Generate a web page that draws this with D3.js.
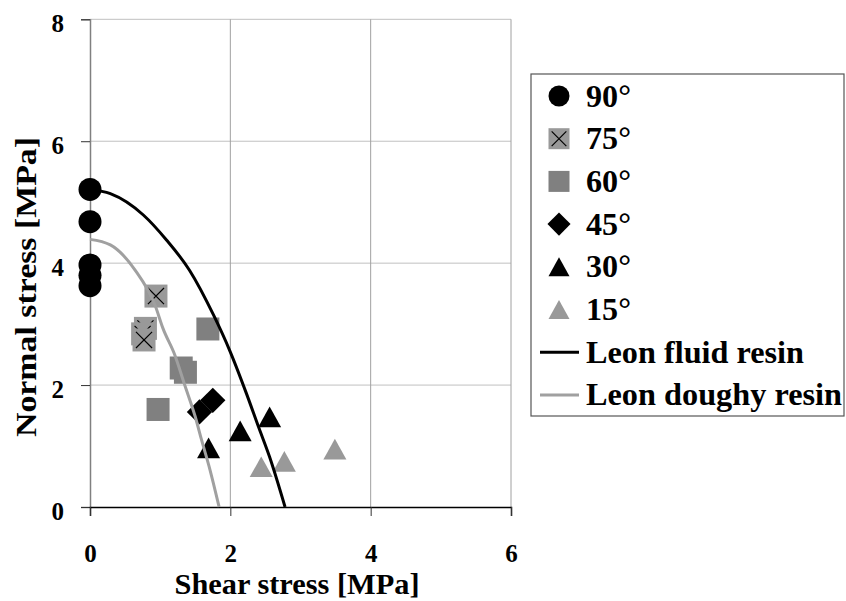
<!DOCTYPE html>
<html>
<head>
<meta charset="utf-8">
<script src="https://cdn.jsdelivr.net/npm/d3@7"></script>
<style>
  body { margin: 0; background: #fff; }
  svg text { font-family: "Liberation Serif", "Tinos", "Times New Roman", "DejaVu Serif", serif; font-weight: bold; }
</style>
</head>
<body>
<div id="chart"></div>
<script>
// data (shear, normal) in MPa
const deg90 = [[0, 5.21], [0, 4.68], [0, 3.97], [0, 3.80], [0, 3.63]];
const deg75 = [[0.94, 3.46], [0.79, 2.93], [0.75, 2.84], [0.77, 2.74]];
const deg60 = [[1.68, 2.92], [1.30, 2.28], [1.36, 2.21], [0.97, 1.60]];
const deg45 = [[1.56, 1.56], [1.75, 1.75]];
const deg30 = [[1.69, 0.97], [2.14, 1.25], [2.56, 1.48]];
const deg15 = [[2.44, 0.66], [2.77, 0.75], [3.49, 0.95]];
const fluidResin = [[0, 5.21], [0.29, 5.14], [0.76, 4.79], [1.09, 4.38], [1.42, 3.88], [1.76, 3.15],
  [1.99, 2.57], [2.23, 1.86], [2.40, 1.32], [2.56, 0.82], [2.78, 0]];
const doughyResin = [[0, 4.39], [0.29, 4.30], [0.64, 3.89], [0.93, 3.30], [1.04, 2.93], [1.21, 2.49],
  [1.35, 2.00], [1.50, 1.48], [1.59, 1.10], [1.71, 0.61], [1.84, 0]];
const xTicks = [0, 2, 4, 6];
const yTicks = [0, 2, 4, 6, 8];
const legendLabels = ['90°', '75°', '60°', '45°', '30°', '15°', 'Leon fluid resin', 'Leon doughy resin'];

const W = 846, H = 601;
const plotL = 90, plotR = 511, plotT = 19.3, plotB = 507;

const svg = d3.select('#chart').append('svg')
  .attr('width', W)
  .attr('height', H);

const x = d3.scaleLinear().domain([0, 6]).range([plotL, plotR]);
const y = d3.scaleLinear().domain([0, 8]).range([plotB, plotT]);

// grid
svg.append('g').selectAll('line')
  .data(yTicks.filter(d => d > 0))
  .enter().append('line')
  .attr('x1', plotL).attr('x2', plotR)
  .attr('y1', d => y(d)).attr('y2', d => y(d))
  .attr('stroke', '#c0c0c0').attr('stroke-width', 1);

svg.append('g').selectAll('line')
  .data(xTicks.filter(d => d > 0))
  .enter().append('line')
  .attr('x1', d => x(d)).attr('x2', d => x(d))
  .attr('y1', plotT).attr('y2', plotB)
  .attr('stroke', '#a0a0a0').attr('stroke-width', 1);

// axes
const yAxis = svg.append('g')
  .attr('transform', `translate(${plotL},0)`)
  .call(d3.axisLeft(y).tickValues(yTicks).tickSize(9).tickPadding(17).tickFormat(d3.format('d')));
yAxis.attr('font-family', null);
yAxis.select('.domain').attr('stroke', '#808080').attr('stroke-width', 1.5);
yAxis.selectAll('.tick line').attr('stroke', '#333');
yAxis.selectAll('text').attr('font-size', 25).attr('fill', '#000').attr('dy', '0.5em');

const xAxis = svg.append('g')
  .attr('transform', `translate(0,${plotB})`)
  .call(d3.axisBottom(x).tickValues(xTicks).tickSize(9).tickPadding(28).tickFormat(d3.format('d')));
xAxis.attr('font-family', null);
xAxis.select('.domain').attr('stroke', '#000').attr('stroke-width', 1.5);
xAxis.selectAll('.tick line').attr('stroke', '#333');
xAxis.selectAll('text').attr('font-size', 25).attr('fill', '#000');

svg.append('text')
  .attr('x', 297).attr('y', 594)
  .attr('text-anchor', 'middle').attr('font-size', 30)
  .attr('textLength', 245).attr('lengthAdjust', 'spacingAndGlyphs')
  .text('Shear stress [MPa]');

svg.append('text')
  .attr('transform', 'translate(36,287) rotate(-90)')
  .attr('text-anchor', 'middle').attr('font-size', 30)
  .attr('textLength', 300).attr('lengthAdjust', 'spacingAndGlyphs')
  .text('Normal stress [MPa]');

// marker shapes
function drawMarker(g, type, size) {
  const h = size / 2;
  if (type === 'circle') {
    g.append('circle').attr('r', h).attr('fill', '#000');
  } else if (type === 'xsquare') {
    g.append('rect').attr('x', -h).attr('y', -h).attr('width', size).attr('height', size).attr('fill', '#999');
    g.append('path').attr('d', `M${-h * 0.7},${-h * 0.7}L${h * 0.7},${h * 0.7}M${h * 0.7},${-h * 0.7}L${-h * 0.7},${h * 0.7}`)
      .attr('stroke', '#000').attr('stroke-width', 1.2);
  } else if (type === 'square') {
    g.append('rect').attr('x', -h).attr('y', -h).attr('width', size).attr('height', size).attr('fill', '#808080');
  } else if (type === 'diamond') {
    const d = h * 1.1;
    g.append('path').attr('d', `M0,${-d}L${d},0L0,${d}L${-d},0Z`).attr('fill', '#000');
  } else {
    g.append('path').attr('d', `M0,${-h * 0.9}L${h},${h * 0.9}L${-h},${h * 0.9}Z`)
      .attr('fill', type === 'tri' ? '#000' : '#999');
  }
}

const series = [
  { data: deg90, type: 'circle' },
  { data: deg75, type: 'xsquare' },
  { data: deg60, type: 'square' },
  { data: deg45, type: 'diamond' },
  { data: deg30, type: 'tri' },
  { data: deg15, type: 'trigrey' }
];

series.forEach(s => {
  svg.append('g').selectAll('g')
    .data(s.data)
    .enter().append('g')
    .attr('transform', d => `translate(${x(d[0])},${y(d[1])})`)
    .each(function () { drawMarker(d3.select(this), s.type, 23); });
});

const line = d3.line().x(d => x(d[0])).y(d => y(d[1])).curve(d3.curveMonotoneX);

svg.append('path').datum(doughyResin)
  .attr('d', line).attr('fill', 'none').attr('stroke', '#a0a0a0').attr('stroke-width', 3);
svg.append('path').datum(fluidResin)
  .attr('d', line).attr('fill', 'none').attr('stroke', '#000').attr('stroke-width', 3);

// legend
const lg = svg.append('g');
lg.append('rect')
  .attr('x', 531).attr('y', 74).attr('width', 313).attr('height', 342)
  .attr('fill', '#fff').attr('stroke', '#555').attr('stroke-width', 1.2);

const legendTypes = ['circle', 'xsquare', 'square', 'diamond', 'tri', 'trigrey', 'fluid', 'doughy'];
const legendWidths = [45, 45, 45, 45, 45, 45, 218, 256];
legendLabels.forEach((label, i) => {
  const cy = 96 + i * 42.7;
  const g = lg.append('g').attr('transform', `translate(559,${cy})`);
  const t = legendTypes[i];
  if (t === 'fluid' || t === 'doughy') {
    g.append('line').attr('x1', -19).attr('x2', 20).attr('y1', 0).attr('y2', 0)
      .attr('stroke', t === 'fluid' ? '#000' : '#a0a0a0').attr('stroke-width', 3);
  } else {
    drawMarker(g, t, 21);
  }
  lg.append('text')
    .attr('x', 586)
    .attr('y', cy + 10.5)
    .attr('font-size', 31)
    .attr('textLength', legendWidths[i]).attr('lengthAdjust', 'spacingAndGlyphs')
    .text(label);
});
</script>
</body>
</html>
